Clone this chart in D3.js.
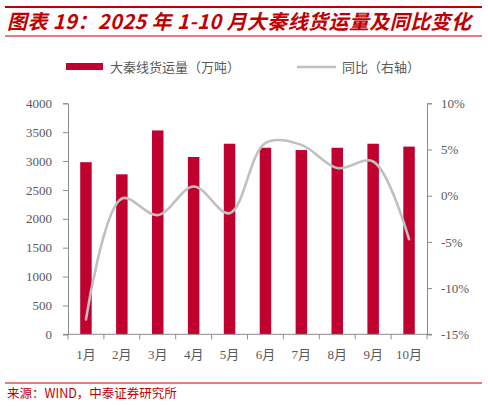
<!DOCTYPE html>
<html>
<head>
<meta charset="utf-8">
<script src="https://cdn.jsdelivr.net/npm/d3@7"></script>
<style>
  body { margin: 0; background: #fff; }
  svg { display: block; font-family: "Noto Sans CJK SC", "Liberation Serif", serif; }
</style>
</head>
<body>
<svg id="chart" width="488" height="406"></svg>
<script>
var months = ["1月", "2月", "3月", "4月", "5月", "6月", "7月", "8月", "9月", "10月"];
var volume = [2980, 2770, 3530, 3070, 3300, 3230, 3190, 3230, 3300, 3250];
var yoy = [-13.4, -0.3, -2.1, 1.0, -1.9, 5.7, 5.5, 3.0, 3.7, -4.7];
var leftTicks = [0, 500, 1000, 1500, 2000, 2500, 3000, 3500, 4000];
var rightTicks = [-15, -10, -5, 0, 5, 10];

var svg = d3.select("#chart");
var red = "#c00000";
var barColor = "#c0002f";
var axisColor = "#8c8c8c";
var labelColor = "#595959";

// header rules and title
svg.append("line").attr("x1", 5).attr("x2", 482).attr("y1", 7).attr("y2", 7)
  .attr("stroke", red).attr("stroke-width", 2.2);
svg.append("text").attr("x", 7).attr("y", 29)
  .attr("fill", red).attr("font-size", 20).attr("font-weight", "bold")
  .attr("font-style", "italic")
  .attr("textLength", 464).attr("lengthAdjust", "spacing")
  .text("图表 19：2025 年 1-10 月大秦线货运量及同比变化");
svg.append("line").attr("x1", 5).attr("x2", 482).attr("y1", 36).attr("y2", 36)
  .attr("stroke", red).attr("stroke-width", 1);

// legend
svg.append("rect").attr("x", 66).attr("y", 63).attr("width", 37).attr("height", 7)
  .attr("fill", barColor);
svg.append("text").attr("x", 110).attr("y", 71.5).attr("font-size", 13)
  .attr("fill", labelColor).text("大秦线货运量（万吨）");
svg.append("line").attr("x1", 297).attr("x2", 336).attr("y1", 67).attr("y2", 67)
  .attr("stroke", "#c0c0c0").attr("stroke-width", 2.5);
svg.append("text").attr("x", 342).attr("y", 71.5).attr("font-size", 13)
  .attr("fill", labelColor).text("同比（右轴）");

// plot area
var plotLeft = 68, plotRight = 427, plotTop = 103.3, plotBottom = 334.3;

var x = d3.scaleBand().domain(months).range([plotLeft, plotRight]).paddingInner(0.68).paddingOuter(0.34);
var xb = d3.scaleBand().domain(months).range([plotLeft, plotRight]);
var yL = d3.scaleLinear().domain([0, 4000]).range([plotBottom, plotTop]);
var yR = d3.scaleLinear().domain([-15, 10]).range([plotBottom, plotTop]);

// bars
svg.append("g").selectAll("rect").data(volume).join("rect")
  .attr("x", (d, i) => x(months[i]))
  .attr("width", x.bandwidth())
  .attr("y", d => yL(d))
  .attr("height", d => yL(0) - yL(d))
  .attr("fill", barColor);

// line on right axis
var line = d3.line()
  .x((d, i) => xb(months[i]) + xb.bandwidth() / 2)
  .y(d => yR(d))
  .curve(d3.curveCatmullRom.alpha(0.5));
svg.append("path").datum(yoy)
  .attr("d", line)
  .attr("fill", "none")
  .attr("stroke", "#c0c0c0")
  .attr("stroke-width", 2.6)
  .attr("stroke-linecap", "round");

function styleAxis(g) {
  g.selectAll("path, line").attr("stroke", axisColor).attr("stroke-width", 1);
  g.selectAll("text").attr("fill", labelColor).attr("font-size", 13)
    .attr("font-family", "'Liberation Serif', serif");
}

// left axis
svg.append("g").attr("transform", "translate(" + plotLeft + ",0)")
  .call(d3.axisLeft(yL).tickValues(leftTicks).tickSize(5).tickSizeOuter(5).tickPadding(11)
    .tickFormat(d3.format("d")))
  .call(styleAxis);

// right axis
svg.append("g").attr("transform", "translate(" + plotRight + ",0)")
  .call(d3.axisRight(yR).tickValues(rightTicks).tickSize(5).tickSizeOuter(5).tickPadding(9)
    .tickFormat(d => d + "%"))
  .call(styleAxis);

// x axis: ticks at band boundaries
var gx = svg.append("g").attr("transform", "translate(0," + plotBottom + ")");
gx.append("line").attr("x1", plotLeft - 5).attr("x2", plotRight + 5).attr("y1", 0).attr("y2", 0)
  .attr("stroke", axisColor);
gx.selectAll(".tk").data(d3.range(months.length + 1)).join("line")
  .attr("class", "tk")
  .attr("x1", i => plotLeft + i * xb.step()).attr("x2", i => plotLeft + i * xb.step())
  .attr("y1", 0).attr("y2", 5).attr("stroke", axisColor);
gx.selectAll("text").data(months).join("text")
  .attr("x", d => xb(d) + xb.bandwidth() / 2)
  .attr("y", 25)
  .attr("text-anchor", "middle")
  .attr("fill", labelColor)
  .attr("font-size", 13)
  .attr("font-family", "'Liberation Serif', 'Noto Sans CJK SC', serif")
  .text(d => d);

// footer
svg.append("line").attr("x1", 5).attr("x2", 482).attr("y1", 383).attr("y2", 383)
  .attr("stroke", red).attr("stroke-width", 1);
svg.append("text").attr("x", 7).attr("y", 398).attr("font-size", 12.5)
  .attr("fill", red).text("来源：WIND，中泰证券研究所");
</script>
</body>
</html>
